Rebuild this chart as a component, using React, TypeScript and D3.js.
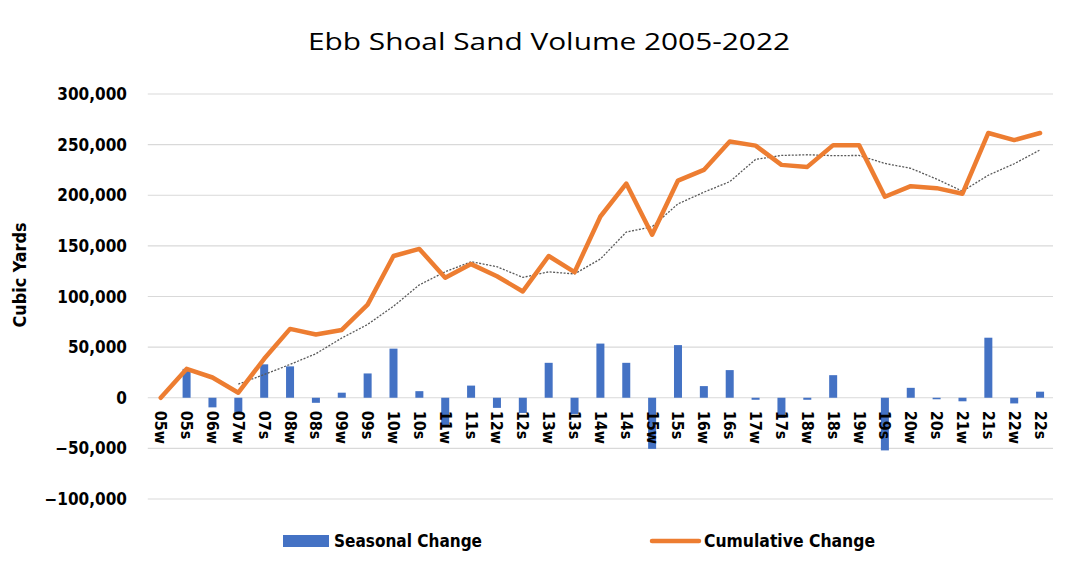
import React from "react";
import * as d3 from "d3";

const categories = [
  "05w", "05s", "06w", "07w", "07s", "08w", "08s", "09w", "09s", "10w", "10s", "11w",
  "11s", "12w", "12s", "13w", "13s", "14w", "14s", "15w", "15s", "16w", "16s", "17w",
  "17s", "18w", "18s", "19w", "19s", "20w", "20s", "21w", "21s", "22w", "22s",
];

const seasonal = [
  0, 28500, -9500, -15000, 33000, 31000, -5000, 5000, 24000, 48500, 6500, -28500,
  12000, -10000, -15000, 34500, -16000, 53500, 34500, -50500, 52000, 11500, 27300, -2000,
  -20000, -2000, 22300, 0, -52000, 9800, -1500, -3500, 59300, -5600, 6000,
];

const cumulative = [
  0, 28500, 20000, 5000, 38500, 68000, 62500, 67000, 92000, 140000, 147000, 118500,
  132000, 120000, 105000, 140000, 124000, 179000, 211500, 161000, 214500, 225000, 253000, 249000,
  230000, 228000, 249500, 249500, 198500, 209000, 207000, 201500, 261500, 254500, 261500,
];

// moving average trendline
const trend: (number | null)[] = [
  null, null, null, 13400, 23000, 32900, 43500, 59000, 72400, 90400, 111500, 124400,
  134400, 129400, 118900, 124300, 122300, 137000, 163600, 168900, 191500, 203000, 213400, 235400,
  239300, 240000, 239100, 239300, 231400, 226600, 216000, 204000, 219800, 231100, 244750,
];

const yTicks = [-100000, -50000, 0, 50000, 100000, 150000, 200000, 250000, 300000];

const font = "'DejaVu Sans Condensed', 'DejaVu Sans', sans-serif";

export default function App() {
  const width = 1065;
  const height = 580;

  const x = d3.scaleBand<string>().domain(categories).range([147.8, 1053]).padding(0);
  const y = d3.scaleLinear().domain([-100000, 300000]).range([499, 94]);
  const cx = (c: string) => (x(c) ?? 0) + x.bandwidth() / 2;
  const fmt = d3.format(",");
  const barW = 8;

  const cumLine = d3
    .line<number>()
    .x((_, i) => cx(categories[i]))
    .y((d) => y(d));

  const trendLine = d3
    .line<number | null>()
    .defined((d) => d != null)
    .x((_, i) => cx(categories[i]))
    .y((d) => y(d as number));

  return (
    <svg
      width={width}
      height={height}
      style={{ position: "absolute", left: 0, top: 0, background: "#fff" }}
    >
      <text
        x={549}
        y={50}
        textAnchor="middle"
        fontFamily="'Open Sans', sans-serif"
        fontSize={23}
        textLength={482}
        lengthAdjust="spacingAndGlyphs"
        fill="#000"
      >
        Ebb Shoal Sand Volume 2005-2022
      </text>

      {/* gridlines */}
      {yTicks.map((t) => (
        <line
          key={t}
          x1={147.8}
          x2={1053}
          y1={y(t)}
          y2={y(t)}
          stroke="#d9d9d9"
          strokeWidth={1.2}
        />
      ))}

      {/* y tick labels */}
      {yTicks.map((t) => (
        <text
          key={"l" + t}
          x={127}
          y={y(t)}
          dy="0.36em"
          textAnchor="end"
          fontFamily={font}
          fontWeight="bold"
          fontSize={17}
          fill="#000"
        >
          {fmt(t)}
        </text>
      ))}

      <text
        transform="translate(26,275) rotate(-90)"
        textAnchor="middle"
        fontFamily={font}
        fontWeight="bold"
        fontSize={17}
        textLength={105}
        lengthAdjust="spacingAndGlyphs"
        fill="#000"
      >
        Cubic Yards
      </text>

      {/* bars */}
      {seasonal.map((v, i) => (
        <rect
          key={"b" + i}
          x={cx(categories[i]) - barW / 2}
          y={Math.min(y(v), y(0))}
          width={barW}
          height={Math.abs(y(v) - y(0))}
          fill="#4472C4"
        />
      ))}

      {/* x labels */}
      {categories.map((c) => (
        <text
          key={"x" + c}
          transform={`translate(${cx(c)},${y(0) + 13}) rotate(90)`}
          dominantBaseline="central"
          textAnchor="start"
          fontFamily={font}
          fontWeight="bold"
          fontSize={16}
          fill="#000"
        >
          {c}
        </text>
      ))}

      <path
        d={trendLine(trend) ?? ""}
        fill="none"
        stroke="#595959"
        strokeWidth={1.3}
        strokeDasharray="2 1.5"
      />
      <path
        d={cumLine(cumulative) ?? ""}
        fill="none"
        stroke="#ED7D31"
        strokeWidth={4.5}
        strokeLinejoin="round"
        strokeLinecap="round"
      />

      {/* legend */}
      <rect x={283} y={535} width={46} height={12} fill="#4472C4" />
      <text
        x={334}
        y={547}
        fontFamily={font}
        fontWeight="bold"
        fontSize={17}
        textLength={148}
        lengthAdjust="spacingAndGlyphs"
        fill="#000"
      >
        Seasonal Change
      </text>
      <line
        x1={652}
        x2={699}
        y1={541}
        y2={541}
        stroke="#ED7D31"
        strokeWidth={4.5}
        strokeLinecap="round"
      />
      <text
        x={704}
        y={547}
        fontFamily={font}
        fontWeight="bold"
        fontSize={17}
        textLength={171}
        lengthAdjust="spacingAndGlyphs"
        fill="#000"
      >
        Cumulative Change
      </text>
    </svg>
  );
}
